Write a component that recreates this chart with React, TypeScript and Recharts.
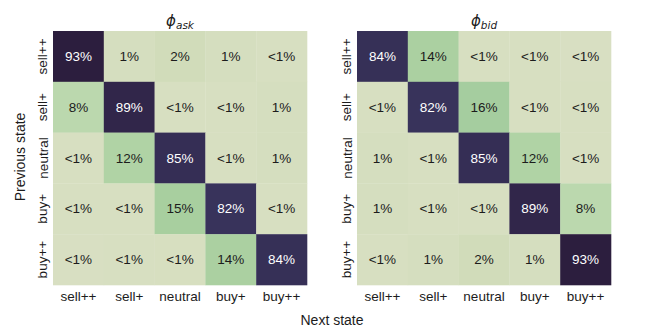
import React from 'react';
import { ScatterChart, Scatter, XAxis, YAxis } from 'recharts';

const STATES = ['sell++', 'sell+', 'neutral', 'buy+', 'buy++'];

// rows = previous state, columns = next state (percent; values < 1 shown as "<1%")
const ASK_MATRIX = [
  [93, 1, 2, 1, 0.4],
  [8, 89, 0.5, 0.5, 1],
  [0.5, 12, 85, 0.5, 1],
  [0.4, 0.5, 15, 82, 0.4],
  [0.3, 0.5, 0.6, 14, 84],
];

const BID_MATRIX = [
  [84, 14, 0.4, 0.4, 0.3],
  [0.5, 82, 16, 0.5, 0.4],
  [1, 0.5, 85, 12, 0.5],
  [1, 0.5, 0.5, 89, 8],
  [0.4, 1, 2, 1, 93],
];

const TITLES = [
  { base: 'ϕ', sub: 'ask' },
  { base: 'ϕ', sub: 'bid' },
];

const COLOR_STOPS: [number, string][] = [
  [0, '#d9e0c3'],
  [2, '#d1dcba'],
  [8, '#bbd8ae'],
  [15, '#a8cf9f'],
  [30, '#75b69a'],
  [50, '#4f8a95'],
  [70, '#3f577f'],
  [82, '#38335b'],
  [85, '#352e55'],
  [93, '#2c1e3e'],
];

function hexToRgb(h: string) {
  const n = parseInt(h.slice(1), 16);
  return [(n >> 16) & 255, (n >> 8) & 255, n & 255];
}

function colorFor(v: number) {
  for (let i = 0; i < COLOR_STOPS.length - 1; i++) {
    const [a, ca] = COLOR_STOPS[i];
    const [b, cb] = COLOR_STOPS[i + 1];
    if (v <= b) {
      const t = Math.max(0, (v - a) / (b - a));
      const A = hexToRgb(ca);
      const B = hexToRgb(cb);
      const c = A.map((x, k) => Math.round(x + (B[k] - x) * t));
      return `rgb(${c[0]},${c[1]},${c[2]})`;
    }
  }
  return COLOR_STOPS[COLOR_STOPS.length - 1][1];
}

const FONT = '"Liberation Sans", Arial, Helvetica, sans-serif';
const TEXT = '#1c1c1c';
const PLOT = 254;
const CELL = PLOT / 5;

function toPoints(m: number[][]) {
  const pts: { x: number; y: number; v: number }[] = [];
  m.forEach((row, r) => row.forEach((v, c) => pts.push({ x: c, y: r, v })));
  return pts;
}

const CellShape = (props: any) => {
  const { cx, cy, payload } = props;
  const v = payload.v;
  const label = v < 1 ? '<1%' : `${Math.round(v)}%`;
  return (
    <g>
      <rect x={cx - CELL / 2} y={cy - CELL / 2} width={CELL + 0.3} height={CELL + 0.3} fill={colorFor(v)} />
      <text
        x={cx}
        y={cy}
        textAnchor="middle"
        dominantBaseline="central"
        fontFamily={FONT}
        fontSize={13.5}
        fill={v > 50 ? '#ffffff' : TEXT}
      >
        {label}
      </text>
    </g>
  );
};

const YTick = (props: any) => {
  const { x, y, payload } = props;
  const tx = x - 10;
  return (
    <text
      x={tx}
      y={y}
      transform={`rotate(-90, ${tx}, ${y})`}
      textAnchor="middle"
      dominantBaseline="central"
      fontFamily={FONT}
      fontSize={13.5}
      fill={TEXT}
    >
      {STATES[payload.value]}
    </text>
  );
};

const XTick = (props: any) => {
  const { x, y, payload } = props;
  return (
    <text x={x} y={y + 11} textAnchor="middle" dominantBaseline="central" fontFamily={FONT} fontSize={13.5} fill={TEXT}>
      {STATES[payload.value]}
    </text>
  );
};

function Heatmap({ matrix, left, plotLeft }: { matrix: number[][]; left: number; plotLeft: number }) {
  const YW = 30;
  return (
    <div style={{ position: 'absolute', left, top: 0 }}>
      <ScatterChart
        width={332}
        height={332}
        margin={{ top: 31, left: plotLeft - YW, right: 332 - plotLeft - PLOT, bottom: 332 - 31 - PLOT - 30 }}
      >
        <XAxis
          dataKey="x"
          type="number"
          domain={[-0.5, 4.5]}
          ticks={[0, 1, 2, 3, 4]}
          tick={<XTick />}
          axisLine={false}
          tickLine={false}
          tickSize={0}
          tickMargin={0}
          height={30}
          interval={0}
        />
        <YAxis
          dataKey="y"
          type="number"
          domain={[-0.5, 4.5]}
          ticks={[0, 1, 2, 3, 4]}
          reversed
          tick={<YTick />}
          axisLine={false}
          tickLine={false}
          tickSize={0}
          tickMargin={0}
          width={YW}
          interval={0}
        />
        <Scatter data={toPoints(matrix)} shape={<CellShape />} isAnimationActive={false} />
      </ScatterChart>
    </div>
  );
}

export default function App() {
  return (
    <div style={{ position: 'absolute', left: 0, top: 0, width: 664, height: 332, background: '#ffffff' }}>
      <Heatmap matrix={ASK_MATRIX} left={0} plotLeft={53} />
      <Heatmap matrix={BID_MATRIX} left={332} plotLeft={25} />
      <svg width={664} height={332} style={{ position: 'absolute', left: 0, top: 0, pointerEvents: 'none' }}>
        {[180, 484].map((cx, i) => (
          <text key={i} x={cx} y={26} textAnchor="middle" fontFamily='"DejaVu Sans", sans-serif' fill={TEXT}>
            <tspan fontSize={15} fontStyle="italic">{TITLES[i].base}</tspan>
            <tspan fontSize={10.5} fontStyle="italic" dy={3}>{TITLES[i].sub}</tspan>
          </text>
        ))}
        <text x={332} y={320} textAnchor="middle" dominantBaseline="central" fontFamily={FONT} fontSize={14} fill={TEXT}>
          Next state
        </text>
        <text
          x={20}
          y={157}
          transform="rotate(-90, 20, 157)"
          textAnchor="middle"
          dominantBaseline="central"
          fontFamily={FONT}
          fontSize={14}
          fill={TEXT}
        >
          Previous state
        </text>
      </svg>
    </div>
  );
}
